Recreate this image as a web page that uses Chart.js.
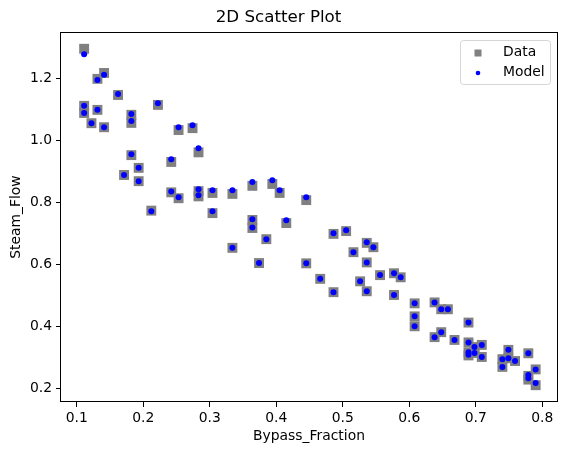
<!DOCTYPE html>
<html lang="en">
<head>
  <meta charset="UTF-8">
  <title>2D Scatter Plot</title>
  <script src="https://cdn.jsdelivr.net/npm/chart.js"></script>
  <style>
    body {
      margin: 0;
      background: #fff;
    }
    #wrap {
      width: 567px;
      height: 455px;
    }
  </style>
</head>
<body>
  <div id="wrap">
    <canvas id="chart" width="567" height="455"></canvas>
  </div>

  <script>
    // values
    const bypassFraction = [
      0.111, 0.111, 0.111, 0.122, 0.131, 0.131, 0.141, 0.141, 0.162, 0.171,
      0.182, 0.182, 0.182, 0.193, 0.193, 0.212, 0.222, 0.242, 0.242, 0.253,
      0.253, 0.274, 0.283, 0.283, 0.283, 0.304, 0.304, 0.334, 0.334, 0.364,
      0.364, 0.364, 0.374, 0.385, 0.394, 0.405, 0.415, 0.445, 0.445, 0.466,
      0.486, 0.486, 0.505, 0.516, 0.526, 0.536, 0.536, 0.536, 0.546, 0.556,
      0.577, 0.577, 0.587, 0.608, 0.608, 0.608, 0.638, 0.638, 0.648, 0.648,
      0.658, 0.668, 0.689, 0.689, 0.689, 0.689, 0.698, 0.698, 0.709, 0.709,
      0.740, 0.740, 0.749, 0.749, 0.759, 0.779, 0.779, 0.779, 0.790, 0.790
    ];
    const steamFlowData = [
      1.295, 1.111, 1.088, 1.055, 1.198, 1.098, 1.217, 1.042, 1.146, 0.888,
      1.082, 1.056, 0.952, 0.911, 0.868, 0.773, 1.114, 0.930, 0.832, 1.033,
      0.813, 1.039, 0.961, 0.836, 0.819, 0.830, 0.765, 0.827, 0.653, 0.853,
      0.743, 0.717, 0.604, 0.681, 0.859, 0.830, 0.733, 0.807, 0.603, 0.553,
      0.698, 0.510, 0.707, 0.639, 0.545, 0.669, 0.606, 0.513, 0.655, 0.565,
      0.571, 0.501, 0.558, 0.474, 0.432, 0.400, 0.477, 0.365, 0.455, 0.381,
      0.455, 0.356, 0.412, 0.348, 0.316, 0.306, 0.333, 0.314, 0.340, 0.301,
      0.294, 0.269, 0.324, 0.297, 0.288, 0.313, 0.240, 0.228, 0.261, 0.210
    ];
    const steamFlowModel = [
      1.277, 1.111, 1.088, 1.055, 1.194, 1.098, 1.211, 1.042, 1.149, 0.888,
      1.085, 1.062, 0.955, 0.911, 0.868, 0.771, 1.119, 0.939, 0.835, 1.042,
      0.816, 1.048, 0.974, 0.842, 0.823, 0.839, 0.771, 0.839, 0.653, 0.865,
      0.745, 0.719, 0.604, 0.681, 0.871, 0.839, 0.742, 0.816, 0.603, 0.553,
      0.700, 0.510, 0.710, 0.639, 0.545, 0.671, 0.606, 0.513, 0.655, 0.565,
      0.571, 0.501, 0.558, 0.474, 0.432, 0.400, 0.477, 0.365, 0.455, 0.381,
      0.455, 0.356, 0.412, 0.348, 0.316, 0.308, 0.333, 0.314, 0.340, 0.301,
      0.294, 0.269, 0.324, 0.297, 0.288, 0.313, 0.243, 0.232, 0.261, 0.217
    ];
    const xTicks = [0.1, 0.2, 0.3, 0.4, 0.5, 0.6, 0.7, 0.8];
    const yTicks = [0.2, 0.4, 0.6, 0.8, 1.0, 1.2];
    const seriesNames = ["Data", "Model"];

    const toPoints = ys => bypassFraction.map((x, i) => ({ x: x, y: ys[i] }));

    Chart.defaults.font.family = "'DejaVu Sans', sans-serif";
    Chart.defaults.font.size = 13.9;
    Chart.defaults.color = "#000";

    // matplotlib-like frame and legend box
    const frameAndLegend = {
      id: "frameAndLegend",
      afterDatasetsDraw(chart) {
        const ctx = chart.ctx;
        const a = chart.chartArea;
        ctx.save();
        ctx.strokeStyle = "#000";
        ctx.lineWidth = 1;
        ctx.strokeRect(Math.round(a.left) - 0.5, Math.round(a.top) + 0.5,
          Math.round(a.right - a.left) + 1, Math.round(a.bottom - a.top) - 1);

        // legend
        const bx = 460, by = 40, bw = 90, bh = 44;
        ctx.beginPath();
        ctx.roundRect(bx + 0.5, by + 0.5, bw, bh, 3);
        ctx.fillStyle = "rgba(255,255,255,0.8)";
        ctx.fill();
        ctx.strokeStyle = "rgba(204,204,204,0.8)";
        ctx.stroke();

        ctx.fillStyle = "#808080";
        ctx.fillRect(474.5, 49.5, 7, 7);
        ctx.beginPath();
        ctx.arc(478, 73, 2.3, 0, Math.PI * 2);
        ctx.fillStyle = "#0000ff";
        ctx.fill();

        ctx.fillStyle = "#000";
        ctx.font = "13.9px 'DejaVu Sans', sans-serif";
        ctx.textBaseline = "middle";
        ctx.textAlign = "left";
        ctx.fillText(seriesNames[0], 503, 52.5);
        ctx.fillText(seriesNames[1], 503, 72.5);
        ctx.restore();
      }
    };

    const tickGrid = {
      display: true,
      drawOnChartArea: false,
      drawTicks: true,
      tickLength: 5,
      tickColor: "#000",
      tickWidth: 1
    };

    new Chart(document.getElementById("chart"), {
      type: "scatter",
      data: {
        datasets: [
          {
            label: seriesNames[0],
            data: toPoints(steamFlowData),
            pointStyle: "rect",
            pointRadius: 7,
            pointHoverRadius: 7,
            backgroundColor: "#808080",
            borderWidth: 0,
            order: 1
          },
          {
            label: seriesNames[1],
            data: toPoints(steamFlowModel),
            pointStyle: "circle",
            pointRadius: 3,
            pointHoverRadius: 3,
            backgroundColor: "#0000ff",
            borderWidth: 0,
            order: 0
          }
        ]
      },
      options: {
        responsive: false,
        animation: false,
        events: [],
        layout: { padding: { left: 0, right: 10, top: 0, bottom: 0 } },
        plugins: {
          legend: { display: false },
          tooltip: { enabled: false },
          title: {
            display: true,
            text: "2D Scatter Plot",
            font: { size: 16.7, weight: "normal" },
            padding: { top: 8, bottom: 4 }
          }
        },
        scales: {
          x: {
            type: "linear",
            min: 0.0762,
            max: 0.8221,
            grid: tickGrid,
            border: { display: false },
            ticks: { padding: 3, callback: v => v.toFixed(1) },
            afterBuildTicks: s => { s.ticks = xTicks.map(v => ({ value: v })); },
            afterFit: s => { s.height = 53; },
            title: {
              display: true,
              text: "Bypass_Fraction",
              padding: { top: 0, bottom: 10 }
            }
          },
          y: {
            type: "linear",
            min: 0.1558,
            max: 1.349,
            grid: tickGrid,
            border: { display: false },
            ticks: { padding: 4, callback: v => v.toFixed(1) },
            afterBuildTicks: s => { s.ticks = yTicks.map(v => ({ value: v })); },
            afterFit: s => { s.width = 61; },
            title: {
              display: true,
              text: "Steam_Flow",
              padding: { top: 8, bottom: 0 }
            }
          }
        }
      },
      plugins: [frameAndLegend]
    });
  </script>
</body>
</html>
